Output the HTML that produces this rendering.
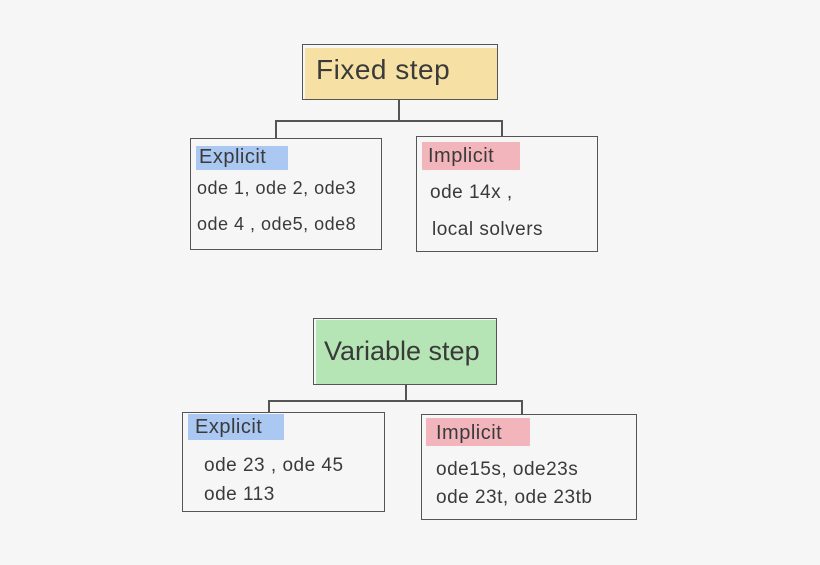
<!DOCTYPE html>
<html><head><style>
body{margin:0;width:820px;height:565px;background:#f6f6f6;position:relative;overflow:hidden;font-family:"Liberation Sans",sans-serif;color:#3a3a3a}
.b{position:absolute;border:1.3px solid #555;box-sizing:border-box}
.h{position:absolute;opacity:.85}
.t{position:absolute;white-space:nowrap;letter-spacing:0.5px}
.l{position:absolute;background:#555}
</style></head><body>
<div class="h" style="left:305px;top:48px;width:192px;height:52px;background:#f6dc95"></div>
<div class="b" style="left:302px;top:44px;width:196px;height:56px"></div>
<div class="t" style="left:316px;top:54px;font-size:28px">Fixed step</div>
<div class="l" style="left:398px;top:100px;width:1.5px;height:20px"></div>
<div class="l" style="left:275px;top:120px;width:227px;height:1.5px"></div>
<div class="l" style="left:275px;top:120px;width:1.5px;height:18px"></div>
<div class="l" style="left:501px;top:120px;width:1.5px;height:16px"></div>

<div class="b" style="left:190px;top:138px;width:192px;height:112px"></div>
<div class="h" style="left:196px;top:146px;width:92px;height:24px;background:#9cbff0"></div>
<div class="t" style="left:199px;top:146px;font-size:20px">Explicit</div>
<div class="t" style="left:197px;top:178px;font-size:18px">ode 1, ode 2, ode3</div>
<div class="t" style="left:197px;top:214px;font-size:18px">ode 4 , ode5, ode8</div>

<div class="b" style="left:416px;top:136px;width:182px;height:116px"></div>
<div class="h" style="left:422px;top:142px;width:98px;height:28px;background:#f2a9b2"></div>
<div class="t" style="left:428px;top:145px;font-size:20px">Implicit</div>
<div class="t" style="left:430px;top:182px;font-size:19px">ode 14x ,</div>
<div class="t" style="left:432px;top:219px;font-size:19px">local solvers</div>

<div class="h" style="left:316px;top:320px;width:180px;height:64px;background:#a9e0a9"></div>
<div class="b" style="left:313px;top:318px;width:184px;height:67px"></div>
<div class="t" style="left:324px;top:336px;font-size:27px;letter-spacing:0">Variable step</div>
<div class="l" style="left:405px;top:385px;width:1.5px;height:15px"></div>
<div class="l" style="left:268px;top:400px;width:254px;height:1.5px"></div>
<div class="l" style="left:268px;top:400px;width:1.5px;height:12px"></div>
<div class="l" style="left:521px;top:400px;width:1.5px;height:14px"></div>

<div class="b" style="left:182px;top:412px;width:203px;height:100px"></div>
<div class="h" style="left:188px;top:414px;width:96px;height:26px;background:#9cbff0"></div>
<div class="t" style="left:195px;top:416px;font-size:20px">Explicit</div>
<div class="t" style="left:204px;top:455px;font-size:19px">ode 23 , ode 45</div>
<div class="t" style="left:204px;top:484px;font-size:19px">ode 113</div>

<div class="b" style="left:421px;top:414px;width:216px;height:106px"></div>
<div class="h" style="left:426px;top:418px;width:104px;height:28px;background:#f2a9b2"></div>
<div class="t" style="left:436px;top:422px;font-size:20px">Implicit</div>
<div class="t" style="left:436px;top:459px;font-size:19px">ode15s, ode23s</div>
<div class="t" style="left:436px;top:487px;font-size:19px">ode 23t, ode 23tb</div>
</body></html>
